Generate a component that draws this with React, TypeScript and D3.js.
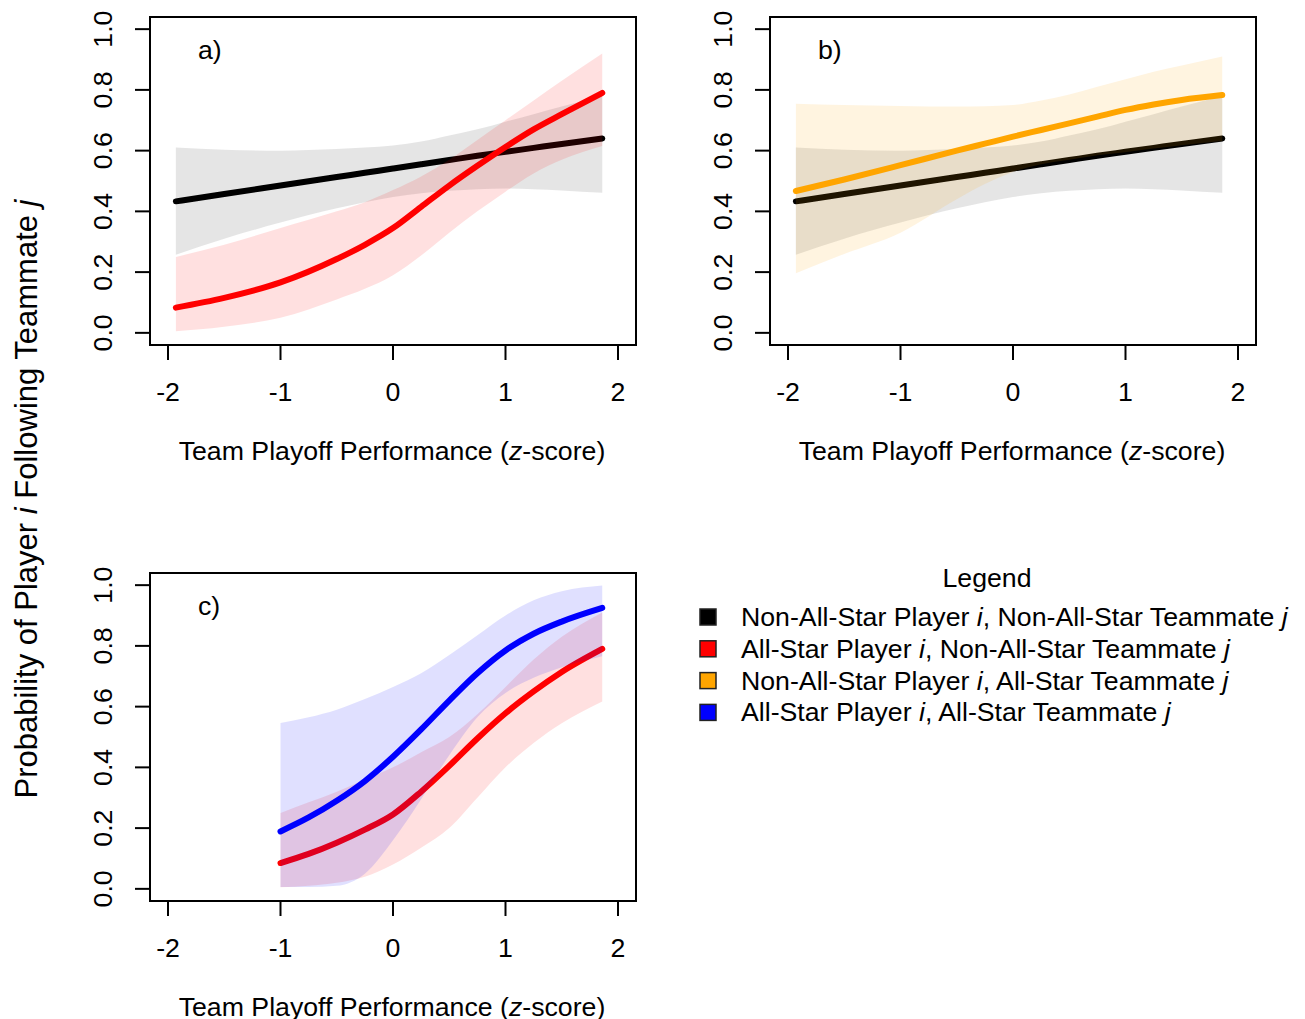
import React from "react";
import * as d3 from "d3";

// axis ticks
const xTicks = [-2, -1, 0, 1, 2];
const yTicks = [0, 0.2, 0.4, 0.6, 0.8, 1.0];

// panels a) and b): z-score grid the curves were read at
const zAB = [-1.93, -1.5, -1, -0.5, -0.25, 0, 0.25, 0.5, 0.75, 1, 1.25, 1.5, 1.86];

// Non-All-Star player i, Non-All-Star teammate j (black)
const nonNonFit = [0.433, 0.457, 0.485, 0.513, 0.527, 0.541, 0.555, 0.569, 0.583, 0.596, 0.609, 0.622, 0.64];
const nonNonHi = [0.61, 0.603, 0.6, 0.605, 0.61, 0.617, 0.63, 0.65, 0.67, 0.695, 0.72, 0.745, 0.78];
const nonNonLo = [0.257, 0.31, 0.363, 0.41, 0.43, 0.447, 0.46, 0.468, 0.473, 0.475, 0.473, 0.469, 0.461];

// All-Star player i, Non-All-Star teammate j (red, panel a)
const allNonFitA = [0.083, 0.115, 0.166, 0.243, 0.29, 0.345, 0.415, 0.485, 0.55, 0.612, 0.67, 0.72, 0.79];
const allNonHiA = [0.25, 0.29, 0.345, 0.4, 0.43, 0.47, 0.515, 0.57, 0.635, 0.7, 0.765, 0.83, 0.92];
const allNonLoA = [0.005, 0.02, 0.05, 0.11, 0.145, 0.19, 0.255, 0.33, 0.4, 0.465, 0.525, 0.57, 0.615];

// Non-All-Star player i, All-Star teammate j (orange, panel b)
const nonAllFit = [0.467, 0.505, 0.552, 0.6, 0.623, 0.646, 0.668, 0.69, 0.712, 0.734, 0.752, 0.767, 0.783];
const nonAllHi = [0.754, 0.75, 0.747, 0.745, 0.746, 0.75, 0.765, 0.785, 0.81, 0.835, 0.86, 0.88, 0.91];
const nonAllLo = [0.196, 0.26, 0.33, 0.44, 0.49, 0.53, 0.555, 0.57, 0.585, 0.595, 0.607, 0.618, 0.632];

// panel c)
const zC = [-1, -0.75, -0.5, -0.25, 0, 0.25, 0.5, 0.75, 1, 1.25, 1.5, 1.86];

const allNonFitC = [0.085, 0.115, 0.152, 0.195, 0.245, 0.32, 0.405, 0.495, 0.578, 0.65, 0.714, 0.79];
const allNonHiC = [0.25, 0.285, 0.32, 0.36, 0.4, 0.45, 0.5, 0.575, 0.665, 0.755, 0.83, 0.91];
const allNonLoC = [0.005, 0.01, 0.02, 0.04, 0.08, 0.135, 0.2, 0.3, 0.4, 0.48, 0.545, 0.617];

const allAllFit = [0.189, 0.235, 0.29, 0.355, 0.435, 0.525, 0.62, 0.71, 0.785, 0.84, 0.88, 0.925];
const allAllHi = [0.546, 0.565, 0.59, 0.625, 0.665, 0.71, 0.77, 0.835, 0.9, 0.95, 0.98, 0.999];
const allAllLo = [0.006, 0.006, 0.01, 0.05, 0.16, 0.295, 0.44, 0.565, 0.645, 0.695, 0.73, 0.766];

// legend
const legendParts = [
  ["Non-All-Star Player ", ", Non-All-Star Teammate "],
  ["All-Star Player ", ", Non-All-Star Teammate "],
  ["Non-All-Star Player ", ", All-Star Teammate "],
  ["All-Star Player ", ", All-Star Teammate "],
];
const legendColors = ["#000000", "#ff0000", "#ffa500", "#0000ff"];

const FONT = "'Liberation Sans', Arial, Helvetica, sans-serif";
const FS = 26.7;

type Series = {
  z: number[];
  fit: number[];
  lo: number[];
  hi: number[];
  color: string;
  fill: string;
};

const black = (): Series => ({
  z: zAB, fit: nonNonFit, lo: nonNonLo, hi: nonNonHi,
  color: "#000000", fill: "rgba(150,150,150,0.25)",
});

function Panel({ left, top, label, series }: { left: number; top: number; label: string; series: Series[] }) {
  const width = 486;
  const height = 328;
  const x = d3.scaleLinear().domain([-2.16, 2.16]).range([left, left + width]);
  const y = d3.scaleLinear().domain([-0.04, 1.04]).range([top + height, top]);
  const fmt = d3.format(".1f");
  const bottom = top + height;

  return (
    <g fontFamily={FONT} fontSize={FS}>
      {series.map((s, i) => {
        const pts = s.z.map((_, k) => k);
        const area = d3
          .area<number>()
          .x((k) => x(s.z[k]))
          .y0((k) => y(s.lo[k]))
          .y1((k) => y(s.hi[k]))
          .curve(d3.curveMonotoneX);
        const line = d3
          .line<number>()
          .x((k) => x(s.z[k]))
          .y((k) => y(s.fit[k]))
          .curve(d3.curveMonotoneX);
        return (
          <g key={i}>
            <path d={area(pts) || ""} fill={s.fill} stroke="none" />
            <path d={line(pts) || ""} fill="none" stroke={s.color} strokeWidth={6} strokeLinecap="round" />
          </g>
        );
      })}

      {/* box */}
      <rect x={left} y={top} width={width} height={height} fill="none" stroke="#000" strokeWidth={2} />

      {/* x axis */}
      {xTicks.map((t) => (
        <g key={"x" + t}>
          <line x1={x(t)} x2={x(t)} y1={bottom} y2={bottom + 15} stroke="#000" strokeWidth={2} />
          <text x={x(t)} y={bottom + 56} textAnchor="middle">{t}</text>
        </g>
      ))}

      {/* y axis */}
      {yTicks.map((t) => (
        <g key={"y" + t}>
          <line x1={left - 15} x2={left} y1={y(t)} y2={y(t)} stroke="#000" strokeWidth={2} />
          <text transform={`translate(${left - 38},${y(t)}) rotate(-90)`} textAnchor="middle">{fmt(t)}</text>
        </g>
      ))}

      <text x={left + width / 2 - 1} y={bottom + 115} textAnchor="middle">
        Team Playoff Performance (<tspan fontStyle="italic">z</tspan>-score)
      </text>

      <text x={left + 48} y={top + 42}>{label}</text>
    </g>
  );
}

export default function App() {
  const panelA: Series[] = [
    black(),
    { z: zAB, fit: allNonFitA, lo: allNonLoA, hi: allNonHiA, color: "#ff0000", fill: "rgba(255,0,0,0.12)" },
  ];
  const panelB: Series[] = [
    black(),
    { z: zAB, fit: nonAllFit, lo: nonAllLo, hi: nonAllHi, color: "#ffa500", fill: "rgba(255,165,0,0.12)" },
  ];
  const panelC: Series[] = [
    { z: zC, fit: allNonFitC, lo: allNonLoC, hi: allNonHiC, color: "#ff0000", fill: "rgba(255,0,0,0.12)" },
    { z: zC, fit: allAllFit, lo: allAllLo, hi: allAllHi, color: "#0000ff", fill: "rgba(0,0,255,0.12)" },
  ];

  return (
    <svg
      width={1305}
      height={1019}
      style={{ position: "absolute", left: 0, top: 0, background: "#fff" }}
    >
      <Panel left={150} top={17} label="a)" series={panelA} />
      <Panel left={770} top={17} label="b)" series={panelB} />
      <Panel left={150} top={573} label="c)" series={panelC} />

      {/* shared y label */}
      <text
        transform="translate(37,499) rotate(-90)"
        textAnchor="middle"
        fontFamily={FONT}
        fontSize={31}
      >
        Probability of Player <tspan fontStyle="italic">i</tspan> Following Teammate <tspan fontStyle="italic">j</tspan>
      </text>

      {/* legend */}
      <g fontFamily={FONT} fontSize={FS}>
        <text x={987} y={587} textAnchor="middle">Legend</text>
        {legendParts.map((p, i) => {
          const cy = 617 + i * 31.8;
          return (
            <g key={i}>
              <rect x={700} y={cy - 8} width={16} height={16} fill={legendColors[i]} stroke="#222" strokeWidth={1.5} />
              <text x={741} y={cy + 9}>
                {p[0]}
                <tspan fontStyle="italic">i</tspan>
                {p[1]}
                <tspan fontStyle="italic">j</tspan>
              </text>
            </g>
          );
        })}
      </g>
    </svg>
  );
}
